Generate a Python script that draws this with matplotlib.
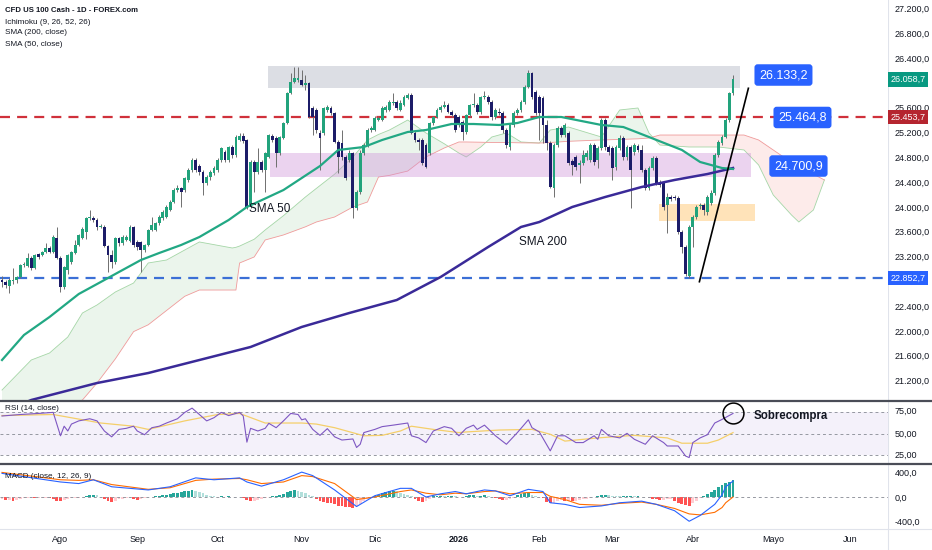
import numpy as np
import pandas as pd
import matplotlib
matplotlib.use("Agg")
import matplotlib.pyplot as plt
from matplotlib.lines import Line2D
import matplotlib.transforms as mtransforms

plt.rcParams['font.family'] = ['Liberation Sans', 'DejaVu Sans']

# ---- daily candles (CFD US 100), last bar = 16 Apr 2026 ----
opens = [22823, 22790, 22726, 22807, 22823, 22871, 23065, 23049, 23178, 23016,
         23242, 23226, 23274, 23339, 23274, 23500, 23178, 22710, 22984, 23113,
         23258, 23387, 23500, 23597, 23823, 23823, 23790, 23678, 23678, 23371,
         23226, 23113, 23500, 23420, 23468, 23452, 23678, 23436, 23436, 23307,
         23387, 23629, 23629, 23742, 23823, 23839, 23952, 24081, 24274, 24307,
         24274, 24436, 24597, 24758, 24661, 24565, 24387, 24484, 24549, 24597,
         24758, 24887, 24758, 24968, 24839, 25081, 25145, 25081, 24000, 24726,
         24565, 24726, 24597, 24807, 25145, 25113, 24871, 25113, 25355, 25839,
         26016, 26049, 26049, 25968, 26000, 25597, 25565, 25194, 25194, 25565,
         25597, 25516, 25049, 25032, 24807, 24758, 24871, 23984, 24242, 24871,
         25000, 25242, 25242, 25403, 25403, 25565, 25565, 25678, 25694, 25565,
         25645, 25758, 25807, 25194, 25081, 25081, 25000, 24871, 25355, 25452,
         25565, 25613, 25645, 25532, 25484, 25452, 25371, 25210, 25484, 25645,
         25645, 25532, 25774, 25774, 25694, 25452, 25532, 25516, 25242, 24968,
         25323, 25516, 25565, 25694, 25936, 26162, 25855, 25774, 25758, 25323,
         25032, 24307, 25000, 25274, 25161, 25194, 24742, 24807, 24678, 24710,
         24807, 24758, 25000, 24758, 24952, 25403, 24968, 24952, 24645, 24952,
         25113, 24807, 24968, 24887, 24984, 24920, 24597, 24307, 24629, 24790,
         24387, 24387, 24032, 24161, 24161, 24145, 23597, 23355, 22880, 23678,
         23839, 24016, 24032, 23920, 24065, 24226, 24839, 25032, 25129, 25403,
         25839]
highs = [22887, 22823, 22855, 23016, 22887, 23081, 23113, 23258, 23210, 23242,
         23258, 23291, 23420, 23371, 23549, 23678, 23210, 23049, 23242, 23291,
         23468, 23565, 23678, 23839, 23952, 23855, 23823, 23726, 23710, 23387,
         23307, 23516, 23516, 23549, 23549, 23710, 23694, 23468, 23452, 23403,
         23645, 23839, 23758, 23871, 23952, 24032, 24113, 24307, 24355, 24323,
         24484, 24629, 24790, 24790, 24694, 24597, 24516, 24597, 24661, 24790,
         24968, 24920, 24984, 25000, 25161, 25194, 25194, 25097, 24758, 24758,
         24952, 24758, 24887, 25178, 25178, 25145, 25145, 25371, 25855, 26162,
         26258, 26258, 26210, 26129, 26016, 25629, 25597, 25242, 25613, 25645,
         25629, 25532, 25081, 25242, 24839, 24920, 24887, 24274, 24920, 25032,
         25274, 25307, 25468, 25468, 25629, 25645, 25726, 25839, 25726, 25726,
         25807, 25839, 25839, 25226, 25113, 25113, 25032, 25371, 25468, 25597,
         25645, 25710, 25678, 25565, 25516, 25484, 25403, 25500, 25661, 25839,
         25678, 25791, 25871, 25807, 25726, 25597, 25597, 25549, 25274, 25339,
         25549, 25597, 25726, 25968, 26210, 26178, 25887, 25807, 25791, 25403,
         25065, 25032, 25307, 25307, 25355, 25226, 24774, 24839, 24758, 24920,
         24920, 25032, 25032, 24984, 25436, 25436, 25000, 24984, 25000, 25161,
         25145, 25000, 25000, 25032, 25016, 25000, 24629, 24661, 24823, 24823,
         24436, 24420, 24226, 24194, 24194, 24178, 23629, 23387, 23710, 23871,
         24032, 24065, 24065, 24194, 24274, 24871, 25081, 25161, 25436, 25855,
         26133]
lows = [22710, 22694, 22613, 22758, 22774, 22855, 23033, 23033, 22984, 23000,
        23162, 23210, 23258, 23258, 23258, 23162, 22629, 22678, 22919, 23081,
        23242, 23371, 23484, 23484, 23790, 23758, 23629, 23661, 23355, 22952,
        23016, 23081, 23371, 23387, 23452, 23436, 23355, 23307, 22952, 23274,
        23371, 23613, 23613, 23710, 23790, 23823, 23936, 24065, 24242, 24000,
        24242, 24403, 24565, 24565, 24516, 24194, 24355, 24436, 24516, 24565,
        24726, 24726, 24726, 24790, 24807, 25065, 25032, 23968, 23984, 24242,
        24532, 24565, 24242, 24790, 25049, 24645, 24839, 25097, 25339, 25823,
        26000, 26016, 25952, 25887, 25436, 25161, 25194, 24597, 25161, 25532,
        25484, 25032, 24549, 24758, 24436, 24726, 23823, 23952, 24210, 24839,
        24968, 25210, 25226, 25387, 25387, 25532, 25549, 25645, 25565, 25549,
        25629, 25742, 25178, 25049, 24920, 24678, 24629, 24839, 25323, 25436,
        25532, 25597, 25516, 25452, 25210, 25290, 25081, 25178, 25452, 25613,
        25500, 25500, 25742, 25661, 25403, 25420, 25484, 25194, 24952, 24920,
        25290, 25484, 25532, 25661, 25920, 25742, 25484, 25081, 25032, 24920,
        24307, 24161, 24968, 25129, 25129, 24678, 24516, 24597, 24387, 24678,
        24758, 24726, 24678, 24629, 24920, 24920, 24839, 24436, 24597, 24920,
        24758, 24758, 23984, 24839, 24887, 24565, 24274, 24274, 24597, 24355,
        24323, 23952, 23581, 24097, 24113, 23565, 23258, 22880, 22853, 23355,
        23807, 23968, 23871, 23871, 24032, 24194, 24807, 25000, 25113, 25371,
        25807]
closes = [22790, 22742, 22823, 22823, 22871, 23065, 23081, 23178, 23016, 23226,
          23194, 23274, 23339, 23274, 23516, 23178, 22710, 23033, 23226, 23274,
          23387, 23549, 23645, 23823, 23839, 23790, 23678, 23694, 23371, 23226,
          23113, 23500, 23420, 23516, 23516, 23678, 23387, 23355, 23307, 23387,
          23629, 23710, 23742, 23839, 23920, 24000, 24081, 24274, 24307, 24242,
          24468, 24597, 24758, 24597, 24565, 24387, 24484, 24565, 24629, 24758,
          24952, 24758, 24968, 24839, 25129, 25145, 25065, 23984, 24726, 24565,
          24726, 24597, 24871, 25161, 25081, 24871, 25129, 25355, 25839, 26016,
          26081, 26081, 25968, 26000, 25452, 25452, 25242, 25113, 25597, 25613,
          25516, 25049, 24807, 24807, 24468, 24871, 23984, 24242, 24871, 25000,
          25242, 25274, 25436, 25436, 25597, 25613, 25694, 25694, 25597, 25678,
          25774, 25807, 25194, 25081, 25049, 24710, 24645, 25355, 25452, 25565,
          25613, 25645, 25532, 25484, 25242, 25323, 25210, 25484, 25645, 25661,
          25532, 25774, 25791, 25694, 25452, 25565, 25516, 25242, 25000, 25323,
          25516, 25565, 25694, 25936, 26162, 25774, 25516, 25516, 25323, 25032,
          24323, 25000, 25274, 25161, 25323, 24710, 24678, 24645, 24710, 24839,
          24871, 25000, 24726, 24952, 25403, 24968, 24887, 24629, 24968, 25113,
          24807, 24968, 24597, 25000, 24920, 24597, 24307, 24629, 24790, 24387,
          24355, 24000, 24161, 24129, 24145, 23597, 23355, 22920, 23678, 23839,
          24000, 24032, 23952, 24161, 24226, 24839, 25049, 25129, 25403, 25839,
          26059]

# ---- moving averages read at selected bars ----
sma50_idx = [0, 6, 13, 21, 27, 32, 38, 43, 49, 54, 62, 67, 77, 87, 92, 99, 104, 111,
             116, 123, 129, 136, 141, 147, 153, 164, 170, 177, 186, 191, 197, 200]
sma50_val = [21532, 21935, 22226, 22597, 22790, 22952, 23145, 23258, 23387, 23516,
             23790, 24000, 24274, 24661, 24920, 24968, 25081, 25210, 25242, 25339,
             25339, 25323, 25355, 25452, 25452, 25323, 25290, 25129, 24920, 24726,
             24629, 24613]
sma200_idx = [0, 8, 26, 40, 54, 68, 82, 95, 108, 120, 133, 142, 147, 156, 165, 175,
              184, 193, 200]
sma200_val = [20693, 20887, 21161, 21322, 21532, 21742, 22065, 22290, 22500, 22871,
              23355, 23678, 23758, 24000, 24161, 24323, 24436, 24532, 24629]

# ---- Ichimoku cloud (senkou spans, shifted 26 bars ahead) ----
cloud_idx = [0, 8, 13, 18, 22, 26, 31, 36, 40, 45, 50, 54, 63, 64, 65, 69, 72, 77, 83,
             86, 91, 96, 100, 103, 106, 111, 116, 121, 125, 127, 131, 134, 138, 142,
             147, 150, 155, 164, 169, 174, 177, 180, 188, 196, 203, 207, 211, 216,
             218, 222, 225]
span_a = [21048, 21532, 21645, 21903, 22290, 22420, 22629, 22774, 23097, 23145,
          23307, 23436, 23339, 23350, 23370, 23480, 23630, 23860, 24161, 24300,
          24530, 24807, 25080, 25170, 25242, 25403, 25194, 25020, 24870, 24807,
          24968, 25129, 25194, 25049, 25032, 25242, 25290, 25129, 25565, 25597,
          25194, 25000, 24968, 24968, 24920, 24678, 24194, 23871, 23758, 23952,
          24436]
span_b = [20240, 20560, 20650, 20770, 20887, 21161, 21550, 21990, 22100, 22330,
          22560, 22661, 22661, 22661, 23097, 23194, 23468, 23549, 23680, 23758,
          23839, 24000, 24081, 24484, 24510, 24580, 24807, 24952, 25049, 25049,
          25045, 25040, 25040, 25035, 25032, 25040, 25060, 25081, 25090, 25100,
          25113, 25161, 25161, 25161, 25161, 25081, 24920, 24720, 24629, 24530,
          24436]

# ---- RSI (14) and its moving average ----
rsi_idx = [0, 5, 10, 14, 16, 17, 18, 19, 21, 24, 26, 28, 30, 32, 34, 36, 37, 39, 41,
           43, 45, 48, 50, 52, 54, 56, 58, 60, 62, 65, 66, 67, 68, 70, 72, 73, 75, 77,
           79, 81, 82, 83, 85, 87, 89, 91, 93, 96, 97, 98, 99, 102, 104, 107, 111, 112,
           114, 116, 118, 121, 123, 125, 127, 129, 130, 132, 135, 138, 141, 144, 145,
           147, 150, 152, 154, 157, 159, 162, 163, 164, 166, 169, 171, 173, 176, 178,
           181, 182, 185, 187, 188, 189, 191, 193, 195, 197, 200]
rsi_val = [66.6, 68, 69, 70, 48, 57, 52.5, 59, 62, 64, 62, 52.5, 47, 54, 55, 57, 52.5,
           49, 55.6, 57, 60, 64, 70, 74, 68, 62, 65, 70, 67, 70, 66.6, 42, 55, 52.5, 55,
           59.7, 55.6, 62, 69, 68, 63, 64, 54, 48.4, 54.7, 47, 44, 45, 37, 40, 51, 54,
           56.6, 58, 60, 48, 46, 41.6, 52.5, 56.6, 55, 48, 55, 58, 54, 58, 48, 40, 51,
           63, 55.6, 51.6, 33.8, 48, 48, 41.6, 41.6, 48, 44.7, 54, 48, 46, 50.3, 44.7,
           40, 48, 41.6, 38.4, 38.4, 29, 27.5, 41.6, 46, 49, 60, 63.4, 69]
rsi_ma_idx = [0, 14, 27, 36, 40, 50, 59, 65, 72, 82, 86, 91, 99, 104, 109, 112, 118,
              125, 127, 136, 145, 150, 154, 163, 173, 182, 186, 193, 196, 200]
rsi_ma_val = [67, 68, 60, 57, 54, 62, 68, 69, 60, 60, 59, 55.6, 48, 48.4, 52.5, 57, 54,
              51, 51.6, 53.4, 54, 49.4, 43, 46, 48.4, 46, 41, 41, 44, 51]

# ---- MACD (12, 26, 9) ----
macd_idx = [0, 16, 21, 25, 30, 40, 46, 53, 58, 65, 67, 71, 77, 82, 85, 91, 97, 102,
            109, 112, 116, 120, 124, 127, 132, 135, 139, 144, 148, 150, 154, 158, 164,
            169, 175, 179, 184, 188, 191, 195, 197, 198, 200]
macd_val = [385, 245, 219, 281, 167, 115, 167, 312, 281, 312, 245, 177, 281, 406, 349,
            115, -156, 21, 141, 141, 0, 52, 89, 52, 115, 99, 21, 125, 89, -94, -120,
            -172, -146, -94, -68, -120, -224, -396, -302, -120, 36, 167, 260]
signal_val = [401, 281, 271, 281, 203, 125, 151, 271, 292, 302, 281, 219, 245, 349,
              333, 219, -42, 0, 89, 115, 62, 36, 62, 52, 89, 99, 52, 73, 73, 10, -42,
              -120, -135, -104, -83, -120, -187, -276, -292, -250, -172, -94, 0]
hist_val = [-40, -50, -50, -60, -50, -40, -20, -20, -10, -20,
            -20, -10, -10, -20, -40, -60, -70, -50, -30, -20,
            -10, -10, -5, 20, 40, 40, 30, 0, -40, -70,
            -80, -60, -40, -30, -20, -10, -30, -50, -40, -20,
            -5, 0, 10, 20, 30, 40, 50, 60, 70, 80,
            90, 100, 110, 100, 80, 60, 40, 20, 10, 5,
            10, 5, 10, 5, 5, 0, -20, -50, -70, -70,
            -50, -30, -10, 0, 10, 20, 30, 50, 80, 100,
            115, 100, 80, 60, 40, 20, -30, -60, -80, -90,
            -100, -120, -140, -150, -160, -170, -180, -150, -110, -70,
            -40, -10, 20, 40, 60, 80, 90, 100, 90, 70,
            50, 30, 20, -30, -60, -80, -70, -40, 10, 20,
            20, 10, 10, 20, 10, 5, 0, 20, 30, 30,
            20, 20, 30, 10, 0, -10, -40, -50, -50, -40,
            -20, 30, 50, 60, 60, 40, 20, 0, -20, -80,
            -100, -90, -70, -50, -60, -60, -70, -60, -50, -40,
            -30, -10, 0, 10, 40, 40, 30, 20, 15, 10,
            10, 10, 15, 10, 10, 5, 0, -10, -30, -40,
            -50, -50, -40, -30, -60, -90, -110, -130, -150, -100,
            -60, -20, 20, 50, 80, 120, 160, 200, 230, 250,
            270]

# ---- drawn levels / zones ----
resistance_level = 25453.7
support_level = 22852.7
last_price = 26058.7
top_zone = (72.8, 201.9, 25920, 26275)      # bar from, bar to, price low, price high
mid_zone = (73.3, 204.9, 24484, 24871)
low_zone = (179.8, 206.0, 23774, 24049)
trend_line = ((190.8, 22795), (204.2, 25915))
tags = [("26.133,2", 213.8, 26129), ("25.464,8", 219.0, 25444), ("24.700,9", 217.9, 24661)]

n = len(closes)
dates = pd.bdate_range(end="2026-04-16", periods=n)
all_dates = pd.bdate_range(start=dates[0], end="2026-06-30")
xs = np.arange(n)

W, H = 932, 550
fig = plt.figure(figsize=(W / 100, H / 100), dpi=100)
fig.patch.set_facecolor("white")


def box(x0, y0, x1, y1):
    return [x0 / W, 1 - y1 / H, (x1 - x0) / W, (y1 - y0) / H]


ax = fig.add_axes(box(0, 0, 888, 400))
ax_rsi = fig.add_axes(box(0, 401, 888, 463), sharex=ax)
ax_macd = fig.add_axes(box(0, 465, 888, 528), sharex=ax)

xlim = (-0.55, 242.4)


def fmt_es(v, dec):
    s = f"{v:,.{dec}f}"
    return s.replace(",", "X").replace(".", ",").replace("X", ".")


for a in (ax, ax_rsi, ax_macd):
    for s in a.spines.values():
        s.set_visible(False)
    a.yaxis.tick_right()
    a.tick_params(axis="y", length=0, pad=5, labelsize=6.5, labelcolor="#131722")
    a.tick_params(axis="x", length=0)
    a.set_xlim(*xlim)

# ---- price pane ----
ax.set_ylim(20887, 27339)
up_col, dn_col, wick_col = "#22a37c", "#1c1c68", "#6f6f6f"
o = np.array(opens, float)
c = np.array(closes, float)
hi = np.maximum(np.array(highs, float), np.maximum(o, c))
lo = np.minimum(np.array(lows, float), np.minimum(o, c))
cols = [up_col if cc >= oo else dn_col for oo, cc in zip(o, c)]
ax.vlines(xs, lo, hi, color=wick_col, lw=0.7, zorder=3)
body = np.maximum(np.abs(c - o), 8)
ax.bar(xs, body, bottom=np.minimum(o, c), width=0.78, color=cols, zorder=3.5, linewidth=0)

ca = np.array(span_a, float)
cb = np.array(span_b, float)
ax.fill_between(cloud_idx, ca, cb, where=ca >= cb, interpolate=True, color="#43a047", alpha=0.1, lw=0, zorder=1)
ax.fill_between(cloud_idx, ca, cb, where=ca < cb, interpolate=True, color="#f44336", alpha=0.1, lw=0, zorder=1)
ax.plot(cloud_idx, span_a, color="#a5d6a7", lw=0.6, zorder=1.2)
ax.plot(cloud_idx, span_b, color="#ef9a9a", lw=0.6, zorder=1.2)

ax.fill_between([top_zone[0], top_zone[1]], top_zone[2], top_zone[3], color="#d1d4dc", alpha=0.75, lw=0, zorder=1.5)
ax.fill_between([mid_zone[0], mid_zone[1]], mid_zone[2], mid_zone[3], color="#ce93d8", alpha=0.4, lw=0, zorder=1.5)
ax.fill_between([low_zone[0], low_zone[1]], low_zone[2], low_zone[3], color="#ffcc80", alpha=0.55, lw=0, zorder=1.5)

ax.axhline(resistance_level, color="#d0313b", lw=1.6, dashes=(4.5, 3.2), zorder=2)
ax.axhline(support_level, color="#3b6fd6", lw=1.6, dashes=(4.5, 3.2), zorder=2)

ax.plot(sma200_idx, sma200_val, color="#3a2a98", lw=1.8, zorder=4)
ax.plot(sma50_idx, sma50_val, color="#22a884", lw=1.6, zorder=4)

ax.plot([trend_line[0][0], trend_line[1][0]], [trend_line[0][1], trend_line[1][1]],
        color="black", lw=1.2, zorder=5)

ax.text(73.3, 23968, "SMA 50", fontsize=8.5, ha="center", va="center", color="#131722", zorder=6)
ax.text(148.0, 23436, "SMA 200", fontsize=8.5, ha="center", va="center", color="#131722", zorder=6)

for txt, bx, by in tags:
    ax.text(bx, by, txt, fontsize=9, color="white", ha="center", va="center", zorder=7,
            bbox=dict(boxstyle="round,pad=0.38,rounding_size=0.25", fc="#2962ff", ec="none"))

price_ticks = [v for v in range(21200, 27201, 400) if v not in (22800, 26000)]
ax.set_yticks(price_ticks)
ax.set_yticklabels([fmt_es(v, 1) for v in price_ticks])
ax.tick_params(axis="x", labelbottom=False)

trans = mtransforms.blended_transform_factory(ax.transAxes, ax.transData)
for val, fc in ((last_price, "#089981"), (resistance_level, "#b5252f"), (support_level, "#2962ff")):
    ax.text(1.003, val, fmt_es(val, 1), transform=trans, fontsize=6.5, color="white",
            ha="left", va="center", zorder=8, clip_on=False,
            bbox=dict(boxstyle="square,pad=0.3", fc=fc, ec="none"))

# ---- RSI pane ----
ax_rsi.set_ylim(22.4, 80.7)
ax_rsi.axhspan(30, 70, color="#7e57c2", alpha=0.08, lw=0)
for lvl in (70, 50, 30):
    ax_rsi.axhline(lvl, color="#9598a1", lw=0.7, dashes=(3, 3))
ax_rsi.plot(rsi_ma_idx, rsi_ma_val, color="#f4cf6a", lw=0.9)
ax_rsi.plot(rsi_idx, rsi_val, color="#7e57c2", lw=0.8)
ax_rsi.set_yticks([25, 50, 75])
ax_rsi.set_yticklabels(["25,00", "50,00", "75,00"])
ytl = ax_rsi.get_yticklabels()
ytl[0].set_verticalalignment("bottom")
ytl[2].set_verticalalignment("top")
ax_rsi.tick_params(axis="x", labelbottom=False)
ax_rsi.plot([200.0], [69.8], marker="o", ms=15, mfc="none", mec="black", mew=1.1, clip_on=False, zorder=6)
ax_rsi.text(205.5, 66.5, "Sobrecompra", fontsize=8.3, fontweight="bold", color="#131722",
            ha="left", va="center", zorder=6)

# ---- MACD pane ----
ax_macd.set_ylim(-506, 522)
ax_macd.axhline(0, color="#9598a1", lw=0.7, dashes=(3, 3))
hcols = []
for i, h in enumerate(hist_val):
    prev = hist_val[i - 1] if i > 0 else h
    if h >= 0:
        hcols.append("#26a69a" if h >= prev else "#b2dfdb")
    else:
        hcols.append("#ff5252" if h < prev else "#ffcdd2")
ax_macd.bar(xs, hist_val, width=0.78, color=hcols, lw=0)
ax_macd.plot(macd_idx, signal_val, color="#ff6d00", lw=0.8)
ax_macd.plot(macd_idx, macd_val, color="#2962ff", lw=0.8)
ax_macd.set_yticks([-400, 0, 400])
ax_macd.set_yticklabels(["-400,0", "0,0", "400,0"])

# month labels
month_names = {1: "Ene", 2: "Feb", 3: "Mar", 4: "Abr", 5: "Mayo", 6: "Jun", 7: "Jul",
               8: "Ago", 9: "Sep", 10: "Oct", 11: "Nov", 12: "Dic"}
tick_pos, tick_lab = [], []
for i in range(1, len(all_dates)):
    if all_dates[i].month != all_dates[i - 1].month:
        d = all_dates[i]
        tick_pos.append(i)
        tick_lab.append(str(d.year) if d.month == 1 else month_names[d.month])
ax_macd.set_xticks(tick_pos)
ax_macd.set_xticklabels(tick_lab)
ax_macd.tick_params(axis="x", labelsize=6.5, labelcolor="#131722", pad=5)
for t in ax_macd.get_xticklabels():
    if t.get_text().isdigit():
        t.set_fontweight("bold")
ax.set_xlim(*xlim)

# pane separators
for yy, col, lw in ((400.5, "#4a4d57", 1.6), (464, "#4a4d57", 1.6), (528.5, "#e0e3eb", 0.8)):
    fig.add_artist(Line2D([0, 1], [1 - yy / H, 1 - yy / H], transform=fig.transFigure, color=col, lw=lw))
fig.add_artist(Line2D([888 / W, 888 / W], [0, 1], transform=fig.transFigure, color="#e0e3eb", lw=0.8, zorder=0))

# legends
legend_lines = [("CFD US 100 Cash - 1D - FOREX.com", 11, "bold", 5.6),
                ("Ichimoku (9, 26, 52, 26)", 22, "normal", 5.9),
                ("SMA (200, close)", 33, "normal", 5.9),
                ("SMA (50, close)", 44, "normal", 5.9)]
for txt, yy, wt, fs in legend_lines:
    fig.text(5 / W, 1 - yy / H, txt, fontsize=fs, fontweight=wt, color="#131722", va="center", ha="left")
fig.text(5 / W, 1 - 409 / H, "RSI (14, close)", fontsize=5.9, color="#131722", va="center", ha="left")
fig.text(5 / W, 1 - 476 / H, "MACD (close, 12, 26, 9)", fontsize=5.9, color="#131722", va="center", ha="left")

fig.savefig("out.png", dpi=100)
